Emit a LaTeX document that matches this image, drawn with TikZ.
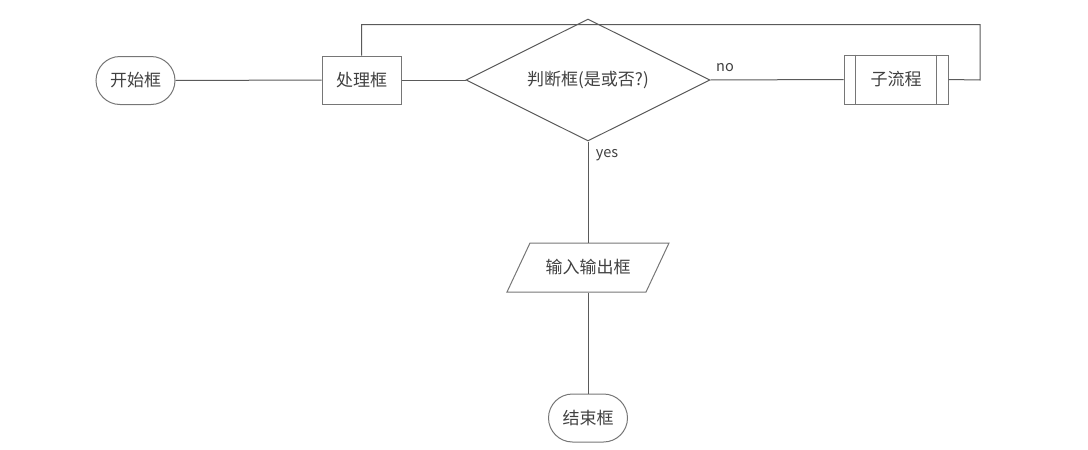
\documentclass[tikz,border=0pt]{standalone}
\usepackage{fontspec}
\setmainfont{Noto Sans CJK SC}
\usetikzlibrary{shapes.geometric}
\definecolor{lineC}{HTML}{5A5A5A}
\definecolor{boxC}{HTML}{767676}
\definecolor{textC}{HTML}{404040}
\begin{document}
\begin{tikzpicture}[x=1pt,y=-1pt,
  base/.style={draw=boxC, line width=1pt, text=textC, font=\fontsize{17}{19}\selectfont, inner sep=0pt},
  term/.style={base, rectangle, rounded corners=24pt, minimum width=79pt, minimum height=48pt},
  proc/.style={base, rectangle, minimum width=79pt, minimum height=48pt},
  dec/.style={base, draw=lineC, diamond, aspect=2, minimum width=244pt, minimum height=122pt},
  subp/.style={base, rectangle, minimum width=104pt, minimum height=49pt},
  iobox/.style={base, draw=none, rectangle, minimum width=139pt, minimum height=49pt},
  conn/.style={draw=lineC, line width=1pt},
  lab/.style={text=textC, font=\fontsize{14.5}{16}\selectfont, inner sep=0pt}]
\useasboundingbox (0,0) rectangle (1088,450);
\node[term] (start) at (135.5,80.5) {开始框};
\node[proc] (proc) at (361.5,80) {处理框};
\node[dec] (dec) at (588,80) {判断框(是或否?)};
\node[subp] (sub) at (896,79.5) {子流程};
\node[iobox] (io) at (588,267.5) {输入输出框};
\node[term] (end) at (588,418) {结束框};
\coordinate (c1) at (361.5,24.5);
\coordinate (c2) at (980,24.5);
\coordinate (c3) at (980,80);
% io parallelogram
\draw[draw=boxC, line width=1pt] ([shift={(-58,-24.5)}]io.center) -- ([shift={(81,-24.5)}]io.center) -- ([shift={(58,24.5)}]io.center) -- ([shift={(-81,24.5)}]io.center) -- cycle;
% subprocess inner bars
\draw[draw=boxC, line width=1pt] ([xshift=12pt]sub.north west) -- ([xshift=12pt]sub.south west);
\draw[draw=boxC, line width=1pt] ([xshift=-12pt]sub.north east) -- ([xshift=-12pt]sub.south east);
% connectors
\draw[conn] (start.east) -- (proc.west);
\draw[conn] (proc.east) -- (dec.west);
\draw[conn] (dec.east) -- (sub.west);
\draw[conn] (dec.south) -- (io.north);
\draw[conn] (io.south) -- (end.north);
\draw[conn] (proc.north) -- (c1) -- (c2) -- (c3) -- (sub.east);
\node[lab] (no) at (725,68) {no};
\node[lab] (yes) at (607,155) {yes};
\end{tikzpicture}
\end{document}
